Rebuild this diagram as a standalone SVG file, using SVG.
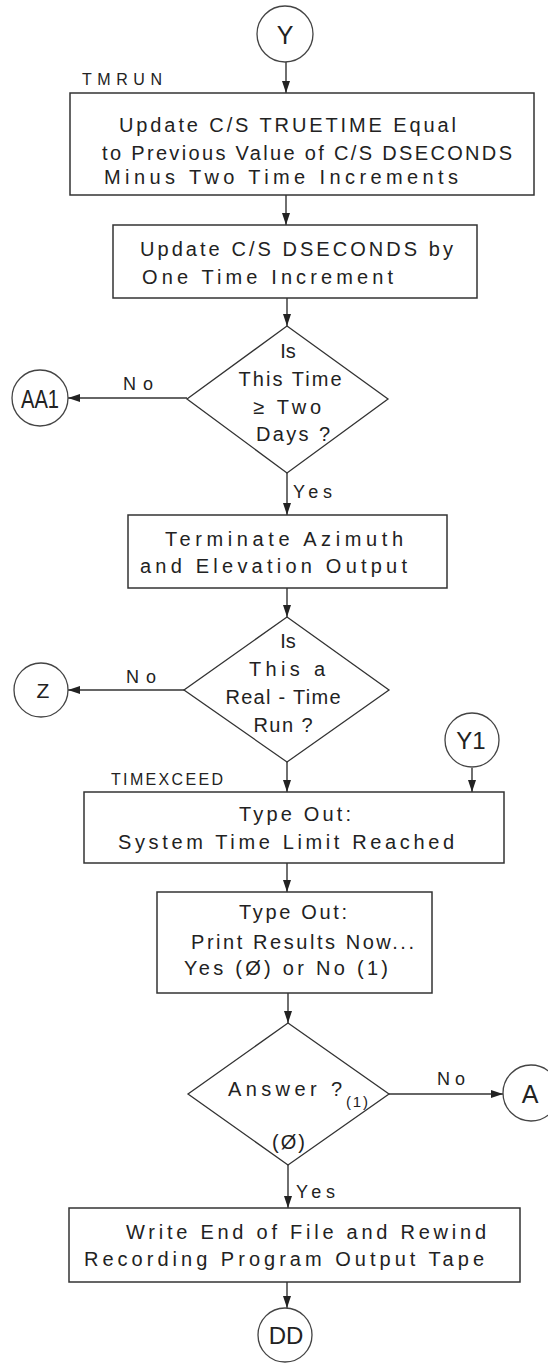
<svg xmlns="http://www.w3.org/2000/svg" width="548" height="1363" viewBox="0 0 548 1363">
  <defs>
    <marker id="arrow" markerUnits="userSpaceOnUse" markerWidth="13" markerHeight="9" refX="12" refY="4" orient="auto">
      <path d="M0,0 L12,4 L0,8 z" fill="#222"/>
    </marker>
    <style>
      .box { fill: #fff; stroke: #333; stroke-width: 1.5; }
      .dia { fill: #fff; stroke: #333; stroke-width: 1.3; }
      .con { fill: #fff; stroke: #444; stroke-width: 1.3; }
      .edge { fill: none; stroke: #333; stroke-width: 1.4; marker-end: url(#arrow); }
      text { font-family: "Liberation Sans", Arial, sans-serif; fill: #222; }
      .t { font-size: 20px; }
      .c { text-anchor: middle; }
      .lbl { font-size: 16px; }
      .sm { font-size: 18px; }
      .big { font-size: 25px; text-anchor: middle; }
    </style>
  </defs>
  <rect width="548" height="1363" fill="#fff"/>

  <!-- connectors -->
  <g id="connectors">
    <line class="edge" x1="286" y1="62" x2="286" y2="93"/>
    <line class="edge" x1="286" y1="195" x2="286" y2="225"/>
    <line class="edge" x1="287" y1="298" x2="287" y2="326"/>
    <line class="edge" x1="187" y1="398" x2="68" y2="398"/>
    <line class="edge" x1="287" y1="473" x2="287" y2="515"/>
    <line class="edge" x1="287" y1="588" x2="287" y2="617"/>
    <line class="edge" x1="184" y1="690" x2="68" y2="690"/>
    <line class="edge" x1="287" y1="762" x2="287" y2="792"/>
    <line class="edge" x1="472" y1="768" x2="472" y2="792"/>
    <line class="edge" x1="287" y1="863" x2="287" y2="892"/>
    <line class="edge" x1="288" y1="993" x2="288" y2="1023"/>
    <line class="edge" x1="389" y1="1094" x2="503" y2="1094"/>
    <line class="edge" x1="288" y1="1165" x2="288" y2="1208"/>
    <line class="edge" x1="287" y1="1282" x2="287" y2="1308"/>
    <text class="sm" x="123" y="390" textLength="30">No</text>
    <text class="sm" x="293" y="498" textLength="39">Yes</text>
    <text class="sm" x="126" y="683" textLength="30">No</text>
    <text class="sm" x="437" y="1085" textLength="28">No</text>
    <text class="sm" x="296" y="1198" textLength="39">Yes</text>
  </g>

  <!-- entry connector Y -->
  <g id="conn-Y">
    <circle class="con" cx="285" cy="34" r="28"/>
    <text class="big" x="285" y="44">Y</text>
  </g>

  <g id="tmrun">
    <text class="lbl" x="82" y="85" textLength="80">TMRUN</text>
    <rect class="box" x="70" y="93" width="464" height="102"/>
    <text class="t" x="119" y="132" textLength="337">Update C/S TRUETIME Equal</text>
    <text class="t" x="102" y="160" textLength="410">to Previous Value of C/S DSECONDS</text>
    <text class="t" x="104" y="184" textLength="354">Minus Two Time Increments</text>
  </g>

  <g id="update-dseconds">
    <rect class="box" x="113" y="225" width="364" height="73"/>
    <text class="t" x="140" y="256" textLength="313">Update C/S DSECONDS by</text>
    <text class="t" x="142" y="284" textLength="251">One Time Increment</text>
  </g>

  <g id="two-days">
    <polygon class="dia" points="287,326 388,399 287,473 187,399"/>
    <text class="t c" x="288" y="358">Is</text>
    <text class="t c" x="290" y="386" textLength="103">This Time</text>
    <text class="t c" x="287" y="414" textLength="68">≥ Two</text>
    <text class="t c" x="293" y="441" textLength="74">Days ?</text>
  </g>

  <g id="conn-AA1">
    <circle class="con" cx="40" cy="398" r="28"/>
    <text class="big" x="40" y="408" style="font-size:26px" textLength="38" lengthAdjust="spacingAndGlyphs">AA1</text>
  </g>

  <g id="terminate">
    <rect class="box" x="128" y="515" width="319" height="73"/>
    <text class="t" x="165" y="546" textLength="238">Terminate Azimuth</text>
    <text class="t" x="140" y="573" textLength="267">and Elevation Output</text>
  </g>

  <g id="real-time">
    <polygon class="dia" points="287,617 389,690 287,762 184,690"/>
    <text class="t c" x="288" y="648">Is</text>
    <text class="t c" x="287" y="676" textLength="76">This a</text>
    <text class="t c" x="283" y="704" textLength="115">Real - Time</text>
    <text class="t c" x="283" y="732" textLength="59">Run ?</text>
  </g>

  <g id="conn-Z">
    <circle class="con" cx="41" cy="690" r="27"/>
    <text class="t c" x="43" y="698" style="font-size:21px">Z</text>
  </g>

  <g id="conn-Y1">
    <circle class="con" cx="472" cy="740" r="27"/>
    <text class="big" x="471" y="749" style="font-size:24px">Y1</text>
  </g>

  <g id="timexceed">
    <text class="lbl" x="111" y="785" textLength="112">TIMEXCEED</text>
    <rect class="box" x="84" y="792" width="420" height="71"/>
    <text class="t" x="239" y="821" textLength="112">Type Out:</text>
    <text class="t" x="118" y="849" textLength="336">System Time Limit Reached</text>
  </g>

  <g id="print-results">
    <rect class="box" x="157" y="892" width="275" height="101"/>
    <text class="t" x="239" y="919" textLength="108">Type Out:</text>
    <text class="t" x="191" y="949" textLength="223">Print Results Now...</text>
    <text class="t" x="184" y="975" textLength="204">Yes (Ø) or No (1)</text>
  </g>

  <g id="answer">
    <polygon class="dia" points="288,1023 389,1094 288,1165 188,1094"/>
    <text class="t" x="228" y="1096" textLength="114">Answer ?</text>
    <text x="346" y="1107" style="font-size:15px" textLength="22">(1)</text>
    <text class="t" x="272" y="1149" textLength="33">(Ø)</text>
  </g>

  <g id="conn-A">
    <circle class="con" cx="531" cy="1093" r="28"/>
    <text class="big" x="530" y="1103">A</text>
  </g>

  <g id="end-of-file">
    <rect class="box" x="69" y="1208" width="451" height="74"/>
    <text class="t" x="126" y="1239" textLength="360">Write End of File and Rewind</text>
    <text class="t" x="84" y="1266" textLength="400">Recording Program Output Tape</text>
  </g>

  <g id="conn-DD">
    <circle class="con" cx="285" cy="1335" r="27"/>
    <text class="big" x="286" y="1344" style="font-size:24px">DD</text>
  </g>
</svg>
